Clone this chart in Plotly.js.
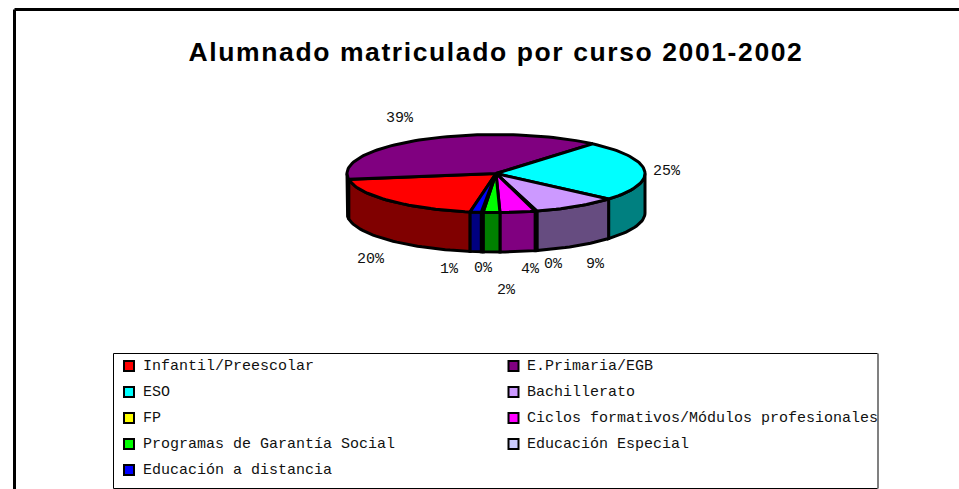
<!DOCTYPE html>
<html>
<head>
<meta charset="utf-8">
<script src="https://cdn.plot.ly/plotly-3.0.1.min.js"></script>
<style>html,body{margin:0;padding:0;background:#fff;overflow:hidden}
.gtitle{letter-spacing:1.6px}</style>
</head>
<body>
<div id="chart" style="width:959px;height:489px"></div>
<script>
// Data
const categories = ["Infantil/Preescolar","E.Primaria/EGB","ESO","Bachillerato","FP",
  "Ciclos formativos/Módulos profesionales","Programas de Garantía Social","Educación Especial","Educación a distancia"];
const values = [19.8,38.6,25.1,9.2,0.2,3.8,1.8,0.2,1.2];

// Styles
const topColors  = ["#FF0000","#800080","#00FFFF","#CC99FF","#FFFF00","#FF00FF","#00FF00","#CCCCFF","#0000FF"];
const sideColors = ["#800000","#400040","#008080","#664C80","#808000","#800080","#008000","#666680","#000080"];
const MONO = '"Liberation Mono", monospace';

// Layout of the figure, in page pixels
const G = {cx:496, cy:173.5, rx:149, ry:39, depth:39.5, start:100};
const labelPositions = [[371,259],[400,118],[667,171],[595,264],[553,264],[530,269],[506,290],[483,268],[449,269]];
const LEG = {x0:113.5, y0:353.5, x1:877.5, y1:488.5, rowTop:366, rowStep:26, swatchX:[129,513.5], textX:[143.5,528]};

const pt = (a,dy=0)=>{const r=a*Math.PI/180; return [G.cx+G.rx*Math.cos(r), G.cy+G.ry*Math.sin(r)+dy];};
function arc(s,e,dy){const n=Math.max(1,Math.ceil(Math.abs(e-s)/2)),o=[];
  for(let i=0;i<=n;i++)o.push(pt(s+(e-s)*i/n,dy));return o;}

const total = values.reduce((a,b)=>a+b,0);
let cur = G.start;
const slices = values.map(v=>{const s=cur; cur+=v/total*360; return [s,cur];});

const traces = [];
const line = {color:"#000",width:3};
// rim of the disc: only the front half shows
slices.forEach(([s,e],i)=>{
  [[0,180],[360,540]].forEach(([lo,hi])=>{
    const a=Math.max(s,lo), b=Math.min(e,hi);
    if(b<=a) return;
    const poly=arc(a,b,0).concat(arc(b,a,G.depth));
    poly.push(poly[0]);
    traces.push({type:"scatter",mode:"lines",name:categories[i]+" (lado)",x:poly.map(p=>p[0]),y:poly.map(p=>p[1]),
      fill:"toself",fillcolor:sideColors[i],line:line,hoverinfo:"skip"});
  });
});
// top face
slices.forEach(([s,e],i)=>{
  const poly=[[G.cx,G.cy]].concat(arc(s,e,0)); poly.push(poly[0]);
  traces.push({type:"scatter",mode:"lines",name:categories[i],x:poly.map(p=>p[0]),y:poly.map(p=>p[1]),
    fill:"toself",fillcolor:topColors[i],line:line,hoverinfo:"skip"});
});
// legend swatches
const legX=categories.map((c,i)=>LEG.swatchX[i%2]);
const legY=categories.map((c,i)=>LEG.rowTop+LEG.rowStep*Math.floor(i/2));
traces.push({type:"scatter",mode:"markers",x:legX,y:legY,hoverinfo:"skip",
  marker:{symbol:"square",size:10,color:topColors,line:{color:"#000",width:2}}});

const annotations=[];
values.forEach((v,i)=>annotations.push({x:labelPositions[i][0],y:labelPositions[i][1],xref:"x",yref:"y",
  text:Math.round(v)+"%",showarrow:false,xanchor:"center",yanchor:"middle",font:{family:MONO,size:15,color:"#111"}}));
categories.forEach((c,i)=>annotations.push({x:LEG.textX[i%2],y:legY[i],xref:"x",yref:"y",text:c,showarrow:false,
  xanchor:"left",yanchor:"middle",xshift:-3,font:{family:MONO,size:15,color:"#111"}}));

const shapes=[
  {type:"line",x0:14.5,x1:959,y0:9.5,y1:9.5,xref:"x",yref:"y",line:{color:"#000",width:3}},
  {type:"line",x0:14.5,x1:14.5,y0:9.5,y1:489,xref:"x",yref:"y",line:{color:"#000",width:3}},
  {type:"rect",x0:LEG.x0,x1:LEG.x1,y0:LEG.y0,y1:LEG.y1,xref:"x",yref:"y",line:{color:"#000",width:1},fillcolor:"#fff",layer:"below"},
  {type:"line",x0:LEG.x1+0.5,x1:LEG.x1+0.5,y0:LEG.y0,y1:LEG.y1,xref:"x",yref:"y",line:{color:"#808080",width:2}}
];

Plotly.newPlot("chart",traces,{
  width:959,height:489,margin:{l:0,r:0,t:0,b:0},paper_bgcolor:"#fff",plot_bgcolor:"#fff",showlegend:false,
  title:{text:"Alumnado matriculado por curso 2001-2002",x:496/959,xref:"paper",xanchor:"center",y:1-52/489,yref:"paper",yanchor:"middle",
    font:{family:'"Liberation Sans", Arial, sans-serif',size:26.5,color:"#000",weight:700}},
  xaxis:{range:[0,959],visible:false,fixedrange:true},
  yaxis:{range:[489,0],visible:false,fixedrange:true},
  annotations:annotations,shapes:shapes
},{displayModeBar:false,staticPlot:true});
</script>
</body>
</html>
